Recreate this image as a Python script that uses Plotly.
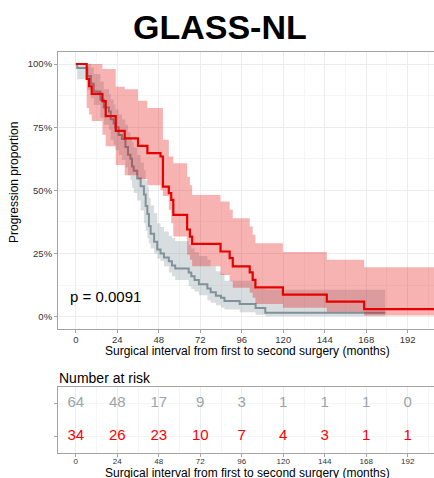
import plotly.graph_objects as go

# ---------------- data ----------------
red_time = [0, 6.3, 7.7, 9.2, 15.4, 17.3, 23.1, 28.3, 36.0, 41.4, 49.0, 50.4, 53.8, 55.2,
            56.4, 64.4, 66.0, 67.3, 83.7, 89.0, 90.8, 100.6, 102.3, 103.9, 119.8, 145.2, 166.8]
red_surv = [1.0, 0.941, 0.912, 0.882, 0.853, 0.794, 0.735, 0.706, 0.676, 0.647, 0.634, 0.515,
            0.489, 0.462, 0.403, 0.345, 0.317, 0.288, 0.258, 0.232, 0.199, 0.175, 0.146, 0.116,
            0.087, 0.060, 0.030]
red_upper = [1.0, 1.0, 1.0, 1.0, 0.98, 0.98, 0.91, 0.90, 0.855, 0.826, 0.826, 0.70, 0.634,
             0.634, 0.607, 0.553, 0.52, 0.482, 0.456, 0.423, 0.39, 0.357, 0.324, 0.291, 0.256,
             0.225, 0.196]
red_lower = [1.0, 0.826, 0.80, 0.774, 0.72, 0.675, 0.60, 0.56, 0.545, 0.52, 0.50, 0.478, 0.423,
             0.37, 0.317, 0.245, 0.225, 0.20, 0.165, 0.14, 0.115, 0.095, 0.075, 0.05, 0.035,
             0.02, 0.005]
red_end = 212

gray_time = [0, 0.8, 6.7, 8.7, 10.4, 14.2, 16.2, 19.2, 20.2, 21.9, 22.9, 24.8, 26.7, 28.7,
             30.2, 31.6, 32.5, 33.5, 35.5, 37.5, 39.4, 40.4, 41.4, 42.3, 43.3, 45.3, 47.1, 49.0,
             51.0, 53.8, 55.6, 57.5, 65.3, 66.8, 68.7, 71.2, 76.1, 78.0, 81.0, 84.0, 86.0, 94.8,
             104.0, 109.6]
gray_surv = [1.0, 0.984, 0.953, 0.922, 0.891, 0.859, 0.828, 0.812, 0.781, 0.766, 0.75, 0.719,
             0.703, 0.672, 0.641, 0.625, 0.594, 0.578, 0.547, 0.516, 0.484, 0.438, 0.406, 0.359,
             0.328, 0.297, 0.266, 0.25, 0.234, 0.219, 0.203, 0.191, 0.175, 0.16, 0.145, 0.128,
             0.112, 0.097, 0.083, 0.075, 0.062, 0.050, 0.034, 0.016]
gray_upper = [1.0, 1.0, 1.0, 0.985, 0.96, 0.93, 0.90, 0.88, 0.86, 0.84, 0.82, 0.80, 0.78, 0.76,
              0.73, 0.71, 0.69, 0.67, 0.64, 0.61, 0.58, 0.54, 0.515, 0.47, 0.44, 0.41, 0.37,
              0.355, 0.337, 0.32, 0.311, 0.30, 0.285, 0.27, 0.255, 0.24, 0.225, 0.2, 0.18, 0.17,
              0.142, 0.142, 0.11, 0.107]
gray_lower = [1.0, 0.94, 0.897, 0.864, 0.838, 0.787, 0.76, 0.739, 0.70, 0.68, 0.66, 0.64, 0.62,
              0.59, 0.56, 0.54, 0.51, 0.49, 0.46, 0.42, 0.37, 0.34, 0.31, 0.29, 0.27, 0.25, 0.23,
              0.22, 0.2, 0.175, 0.16, 0.145, 0.12, 0.11, 0.10, 0.085, 0.065, 0.055, 0.045, 0.035,
              0.028, 0.018, 0.008, 0.002]
gray_end = 179

risk_times = [0, 24, 48, 72, 96, 120, 144, 168, 192]
risk_gray = [64, 48, 17, 9, 3, 1, 1, 1, 0]
risk_red = [34, 26, 23, 10, 7, 4, 3, 1, 1]

x_ticks = [0, 24, 48, 72, 96, 120, 144, 168, 192]
y_ticks = [0, 0.25, 0.5, 0.75, 1.0]
y_ticklabels = ["0%", "25%", "50%", "75%", "100%"]

title_text = "GLASS-NL"
p_text = "p = 0.0091"
x_title = "Surgical interval from first to second surgery (months)"
y_title = "Progression proportion"
risk_title = "Number at risk"

# ---------------- styles ----------------
FONT = "Liberation Sans, Arial, Helvetica, sans-serif"
RED = "#e60000"
RED_TXT = "#ff0000"
GRAY = "#7f9199"
GRAY_TXT = "#98a5ab"
RED_BAND = "rgba(230,0,0,0.30)"
GRAY_BAND = "rgba(127,145,153,0.30)"
AXIS = "#a3a3a3"
GRID = "#ececec"
GRID_MINOR = "#f5f5f5"

W, H = 434, 478
XR = [-10.3, 207.2]
dom_x = [58 / W, 1.0]
dom_main = [(H - 329.3) / H, (H - 51.7) / H]
dom_risk = [(H - 452.7) / H, (H - 386.7) / H]


def ext(t, v, end):
    return list(t) + [end], list(v) + [v[-1]]


fig = go.Figure()


def add_group(times, surv, up, lo, end, band_col):
    tx, lo_e = ext(times, lo, end)
    _, up_e = ext(times, up, end)
    _, sv_e = ext(times, surv, end)
    fig.add_trace(go.Scatter(x=tx, y=lo_e, mode="lines", line=dict(width=0, shape="hv"),
                             hoverinfo="skip", showlegend=False, xaxis="x", yaxis="y"))
    fig.add_trace(go.Scatter(x=tx, y=up_e, mode="lines", line=dict(width=0, shape="hv"),
                             fill="tonexty", fillcolor=band_col, hoverinfo="skip",
                             showlegend=False, xaxis="x", yaxis="y"))
    return tx, sv_e


g_tx, g_sv = add_group(gray_time, gray_surv, gray_upper, gray_lower, gray_end, GRAY_BAND)
fig.add_trace(go.Scatter(x=g_tx, y=g_sv, mode="lines", line=dict(color=GRAY, width=2, shape="hv"),
                         hoverinfo="skip", showlegend=False, xaxis="x", yaxis="y"))
r_tx, r_sv = add_group(red_time, red_surv, red_upper, red_lower, red_end, RED_BAND)
fig.add_trace(go.Scatter(x=r_tx, y=r_sv, mode="lines", line=dict(color=RED, width=2.2, shape="hv"),
                         hoverinfo="skip", showlegend=False, xaxis="x", yaxis="y"))

# risk table numbers
fig.add_trace(go.Scatter(x=risk_times, y=[2] * len(risk_times), mode="text",
                         text=[str(v) for v in risk_gray],
                         textfont=dict(family=FONT, size=15, color=GRAY_TXT),
                         hoverinfo="skip", showlegend=False, xaxis="x2", yaxis="y2",
                         cliponaxis=False))
fig.add_trace(go.Scatter(x=risk_times, y=[1] * len(risk_times), mode="text",
                         text=[str(v) for v in risk_red],
                         textfont=dict(family=FONT, size=15, color=RED_TXT),
                         hoverinfo="skip", showlegend=False, xaxis="x2", yaxis="y2",
                         cliponaxis=False))

common_x = dict(range=XR, domain=dom_x, tickmode="array", tickvals=x_ticks,
                ticks="outside", ticklen=3, tickcolor=AXIS, showline=True, linecolor=AXIS,
                linewidth=1, mirror=True, showgrid=True, gridcolor=GRID, gridwidth=1,
                zeroline=False, minor=dict(tickvals=[12, 36, 60, 84, 108, 132, 156, 180, 204],
                                           showgrid=True, gridcolor=GRID_MINOR, gridwidth=1,
                                           ticks=""))

fig.update_layout(
    width=W, height=H, margin=dict(l=0, r=0, t=0, b=0),
    paper_bgcolor="white", plot_bgcolor="white",
    font=dict(family=FONT, color="#333333"),
    xaxis=dict(**common_x, anchor="y", ticklabelstandoff=-2,
               tickfont=dict(size=9.5, color="#333333")),
    yaxis=dict(range=[-0.0499, 1.0487], domain=dom_main, anchor="x", tickmode="array",
               tickvals=y_ticks, ticktext=y_ticklabels, ticks="outside", ticklen=3,
               tickcolor=AXIS, showline=True, linecolor=AXIS, linewidth=1,
               showgrid=True, gridcolor=GRID, zeroline=False,
               tickfont=dict(size=9.5, color="#333333"),
               minor=dict(tickvals=[0.125, 0.375, 0.625, 0.875], showgrid=True,
                          gridcolor=GRID_MINOR, ticks="")),
    xaxis2=dict(**common_x, anchor="y2", ticklabelstandoff=-2,
                tickfont=dict(size=8, color="#333333")),
    yaxis2=dict(range=[0.5, 2.5], domain=dom_risk, anchor="x2", tickmode="array",
                tickvals=[1, 2], ticktext=["", ""], ticks="outside", ticklen=3,
                tickcolor=AXIS, showline=True, linecolor=AXIS, showgrid=True,
                gridcolor=GRID_MINOR, zeroline=False),
    annotations=[
        dict(text=f"<b>{title_text}</b>", x=220 / W, y=(H - 27) / H, xref="paper", yref="paper",
             xanchor="center", yanchor="middle", showarrow=False,
             font=dict(family=FONT, size=34, color="black")),
        dict(text=y_title, x=13.5 / W, y=(H - 182.5) / H, xref="paper", yref="paper",
             xanchor="center", yanchor="middle", textangle=-90, showarrow=False,
             font=dict(family=FONT, size=12, color="black")),
        dict(text=x_title, x=247.5 / W, y=(H - 351.5) / H, xref="paper", yref="paper",
             xanchor="center", yanchor="middle", showarrow=False,
             font=dict(family=FONT, size=12, color="black")),
        dict(text=x_title, x=247.5 / W, y=(H - 472.5) / H, xref="paper", yref="paper",
             xanchor="center", yanchor="middle", showarrow=False,
             font=dict(family=FONT, size=12, color="black")),
        dict(text=risk_title, x=57 / W, y=(H - 377.5) / H, xref="paper", yref="paper",
             xanchor="left", yanchor="middle", showarrow=False,
             font=dict(family=FONT, size=14, color="black")),
        dict(text=p_text, x=-4.5, y=0.079, xref="x", yref="y", xanchor="left",
             yanchor="middle", showarrow=False, font=dict(family=FONT, size=15, color="black")),
    ],
)

fig.write_html("out.html", config={"displayModeBar": False},
               post_script="document.body.style.margin='0';")
